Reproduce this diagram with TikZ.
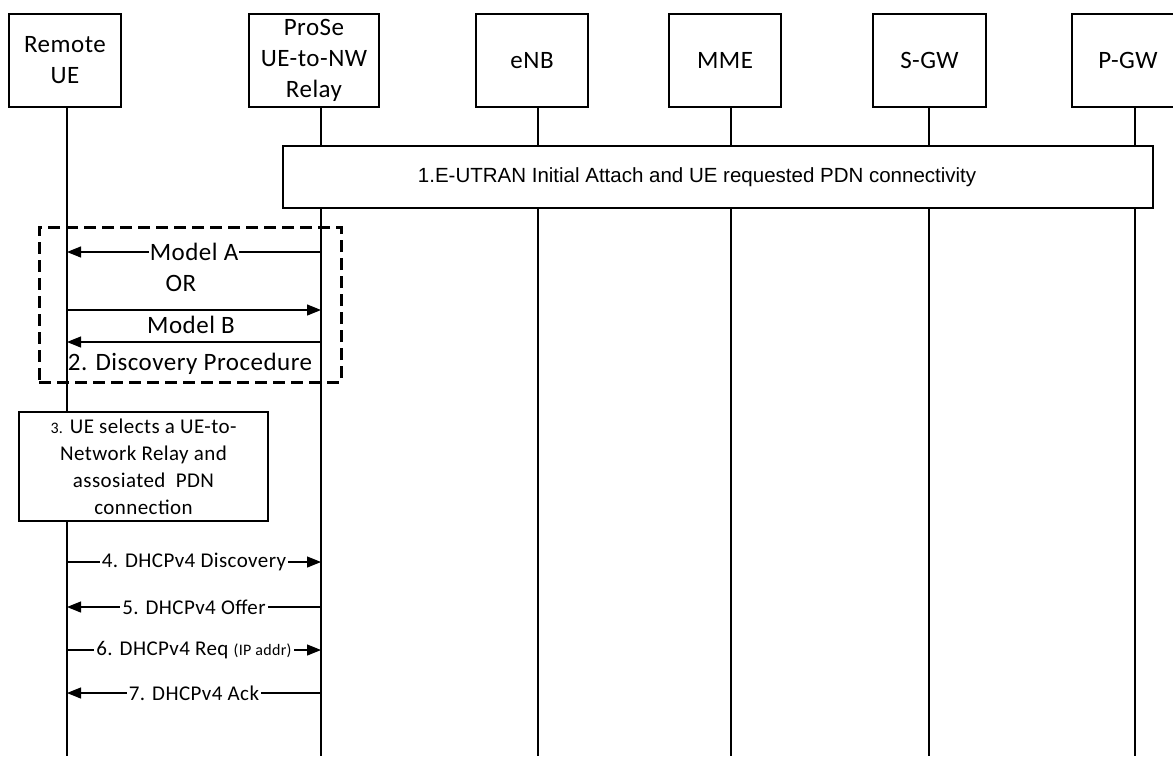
\documentclass[tikz,border=0pt]{standalone}
\usepackage{fontspec}
\setmainfont{Carlito}[LetterSpace=2]
\newfontfamily\arialfont{Liberation Sans}
\usetikzlibrary{arrows.meta,positioning}

\tikzset{
  actor/.style={draw, line width=1.2pt, minimum width=112pt, minimum height=93pt,
    inner sep=0pt, align=center, font=\fontsize{25}{31}\selectfont},
  life/.style={line width=1.2pt},
  msg/.style={line width=1.2pt, -{Triangle[length=14pt,width=11pt]}},
  tag/.style={fill=white, inner sep=2pt, font=\fontsize{21}{25}\selectfont},
  disc/.style={inner sep=1pt, font=\fontsize{25}{30}\selectfont},
}

\begin{document}
\begin{tikzpicture}[x=1pt, y=-1pt]
      \useasboundingbox (0,0) rectangle (1173,756);

      \node[actor] (ue) at (65,60.5) {Remote\\UE};
      \node[actor, minimum width=130pt] (relay) at (314,60.5) {ProSe\\UE-to-NW\\Relay};
      \node[actor] (enb) at (532,60.5) {eNB};
      \node[actor] (mme) at (725,60.5) {MME};
      \node[actor, minimum width=113pt] (sgw) at (929.5,60.5) {S-GW};
      \node[actor] (pgw) at (1128,60.5) {P-GW};

      \foreach \n/\x in {ue/67, relay/321, enb/538, mme/731, sgw/929, pgw/1135} {
        \coordinate (\n-top) at (\x,107);
        \coordinate (\n-bot) at (\x,756);
        \draw[life] (\n-top) -- (\n-bot);
      }

      \node[draw, fill=white, line width=1.2pt, minimum width=870pt, minimum height=62pt,
        inner sep=0pt] (attach) at (718,177) {};
      \node[font=\arialfont\fontsize{20.5}{24}\selectfont, right=0pt of attach.west,
        xshift=132pt] (attachtext) {1.E-UTRAN Initial Attach and UE requested PDN connectivity};

      \node[draw, line width=3pt, dash pattern=on 12pt off 6pt, minimum width=302pt,
        minimum height=155pt, inner sep=0pt] (discbox) at (190,304.5) {};

      \draw[msg] (relay-top |- 0,252) -- node[disc, fill=white] (modela) {Model A} (ue-top |- 0,252);
      \node[disc] (or) at (181,283) {OR};
      \draw[msg] (ue-top |- 0,310) -- (relay-top |- 0,310);
      \node[disc] (modelb) at (191,325) {Model B};
      \draw[msg] (relay-top |- 0,342) -- (ue-top |- 0,342);
      \node[disc] (discproc) at (190,364) {2. Discovery Procedure};

      \node[draw, fill=white, line width=1.2pt, minimum width=249pt, minimum height=109pt,
        inner sep=0pt, align=center, font=\fontsize{21}{27}\selectfont] (select) at (143.5,466.5)
        {{\fontsize{16}{18}\selectfont 3.} UE selects a UE-to-\\Network Relay and\\assosiated\ \ PDN\\connection};

      \draw[msg] (ue-top |- 0,562) -- node[tag] (m4) {4. DHCPv4 Discovery} (relay-top |- 0,562);
      \draw[msg] (relay-top |- 0,607) -- node[tag] (m5) {5. DHCPv4 Offer} (ue-top |- 0,607);
      \draw[msg] (ue-top |- 0,650) -- node[tag] (m6) {6. DHCPv4 Req {\fontsize{16}{18}\selectfont(IP addr)}} (relay-top |- 0,650);
      \draw[msg] (relay-top |- 0,693) -- node[tag] (m7) {7. DHCPv4 Ack} (ue-top |- 0,693);
\end{tikzpicture}
\end{document}
